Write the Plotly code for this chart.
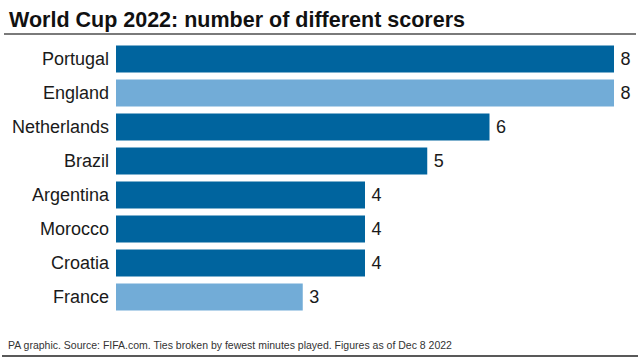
import plotly.graph_objects as go

countries = ["Portugal", "England", "Netherlands", "Brazil", "Argentina", "Morocco", "Croatia", "France"]
scorers = [8, 8, 6, 5, 4, 4, 4, 3]
bar_colors = ["#00649e", "#72acd7", "#00649e", "#00649e", "#00649e", "#00649e", "#00649e", "#72acd7"]

title_text = "World Cup 2022: number of different scorers"
footer_text = "PA graphic. Source: FIFA.com. Ties broken by fewest minutes played. Figures as of Dec 8 2022"

W, H = 640, 360
L, R = 116, 614
T, B = 42, 314

def px(x):
    return (x - L) / (R - L)

def py(y):
    return (B - y) / (B - T)

fig = go.Figure(go.Bar(
    y=countries,
    x=scorers,
    orientation="h",
    marker=dict(color=bar_colors, line=dict(width=0)),
    text=["\u2009" + str(v) for v in scorers],
    textposition="outside",
    textfont=dict(size=18, color="#1a1a1a", family="Liberation Sans, Arial, sans-serif"),
    cliponaxis=False,
    width=0.8,
    hoverinfo="skip",
))

fig.update_layout(
    width=W, height=H,
    margin=dict(l=L, r=W - R, t=T, b=H - B, pad=0),
    paper_bgcolor="white",
    plot_bgcolor="white",
    showlegend=False,
    font=dict(family="Liberation Sans, Arial, sans-serif", color="#1a1a1a"),
    xaxis=dict(range=[0, 8], visible=False, fixedrange=True, automargin=False),
    yaxis=dict(
        categoryorder="array", categoryarray=countries[::-1],
        showgrid=False, zeroline=False, showline=False, ticks="",
        tickfont=dict(size=18, color="#1a1a1a"),
        ticklabelstandoff=6, automargin=False, fixedrange=True,
    ),
    shapes=[
        dict(type="line", xref="paper", yref="paper", x0=px(4), x1=px(636), y0=py(34), y1=py(34),
             line=dict(color="#7a7a7a", width=2)),
        dict(type="line", xref="paper", yref="paper", x0=px(2), x1=px(638), y0=py(356), y1=py(356),
             line=dict(color="#222222", width=1.5)),
    ],
    annotations=[
        dict(text="<b>" + title_text + "</b>", xref="paper", yref="paper", x=px(7), y=py(20),
             xanchor="left", yanchor="middle", showarrow=False,
             font=dict(size=21.5, color="#111111", family="Liberation Sans, Arial, sans-serif")),
        dict(text=footer_text, xref="paper", yref="paper", x=px(6), y=py(345),
             xanchor="left", yanchor="middle", showarrow=False,
             font=dict(size=10.5, color="#333333", family="Liberation Sans, Arial, sans-serif")),
    ],
)

fig.write_html("out.html", config={"displayModeBar": False},
               post_script="document.body.style.margin='0';document.body.style.overflow='hidden';")
